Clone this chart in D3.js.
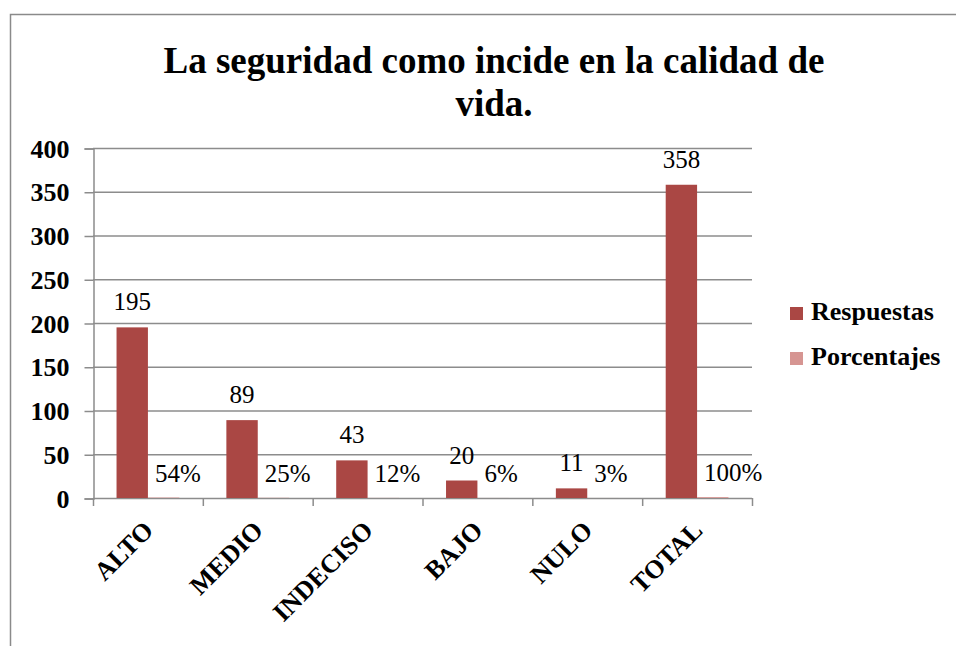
<!DOCTYPE html>
<html>
<head>
<meta charset="utf-8">
<script src="https://cdn.jsdelivr.net/npm/d3@7"></script>
<style>
  body { margin: 0; background: #fff; }
</style>
</head>
<body>
<div id="vis"></div>
<script>
'use strict'

// data
const categories = ["ALTO", "MEDIO", "INDECISO", "BAJO", "NULO", "TOTAL"];
const series = ["Respuestas", "Porcentajes"];
const respuestas = [195, 89, 43, 20, 11, 358];
const porcentajes = [0.54, 0.25, 0.12, 0.06, 0.03, 1.00];
const porcentajeLabels = ["54%", "25%", "12%", "6%", "3%", "100%"];
const yTicks = [0, 50, 100, 150, 200, 250, 300, 350, 400];
const titleLines = ["La seguridad como incide en la calidad de", "vida."];

////////////////////////////////////////
////////////// Setup ///////////////////
////////////////////////////////////////

const font = "Liberation Serif";
const width = 956, height = 646;
const plot = { left: 93, right: 752, top: 148, bottom: 498 };
const colors = { Respuestas: "#AA4744", Porcentajes: "#D69592" };
const gridColor = "#8c8c8c";

const svg = d3.select("#vis").append("svg")
  .attr("width", width)
  .attr("height", height)
  .style("display", "block");

// chart frame
svg.append("rect")
  .attr("x", 10.5).attr("y", 14.5)
  .attr("width", 960).attr("height", 700)
  .attr("fill", "#fff")
  .attr("stroke", "#8a8a8a")
  .attr("stroke-width", 1.5);

// title
svg.append("g").selectAll("text")
  .data(titleLines)
  .join("text")
  .attr("x", 494)
  .attr("y", (d, i) => 73 + i * 43)
  .attr("text-anchor", "middle")
  .attr("font-family", font)
  .attr("font-size", 37)
  .attr("font-weight", "bold")
  .text(d => d);

////////////////////////////////////////
////////////// Scales //////////////////
////////////////////////////////////////

const x = d3.scaleBand().domain(categories).range([plot.left, plot.right]);
const x1 = d3.scaleBand().domain(series).range([0, x.bandwidth()]).paddingOuter(0.75);
const y = d3.scaleLinear().domain([0, 400]).range([plot.bottom, plot.top]);

// gridlines
svg.append("g").selectAll("line")
  .data(yTicks.filter(d => d > 0))
  .join("line")
  .attr("x1", plot.left).attr("x2", plot.right)
  .attr("y1", d => y(d) + 0.5).attr("y2", d => y(d) + 0.5)
  .attr("stroke", gridColor).attr("stroke-width", 1.5);

// y axis
const yAxis = svg.append("g")
  .attr("transform", `translate(${plot.left + 0.5},0.5)`)
  .call(d3.axisLeft(y).tickValues(yTicks).tickSize(9).tickPadding(15))
  .attr("font-family", font);
yAxis.selectAll("line, path").attr("stroke", gridColor).attr("stroke-width", 1.5);
yAxis.selectAll("text")
  .attr("font-family", font)
  .attr("font-size", 26)
  .attr("font-weight", "bold")
  .attr("fill", "#000")
  .attr("dy", "0.33em");

// x axis (ticks on band boundaries)
const xAxis = svg.append("g");
xAxis.append("line")
  .attr("x1", plot.left).attr("x2", plot.right)
  .attr("y1", plot.bottom + 0.5).attr("y2", plot.bottom + 0.5)
  .attr("stroke", gridColor).attr("stroke-width", 1.5);
xAxis.selectAll(".tick")
  .data(categories.concat(["end"]))
  .join("line")
  .attr("x1", (d, i) => plot.left + i * x.step() + 0.5)
  .attr("x2", (d, i) => plot.left + i * x.step() + 0.5)
  .attr("y1", plot.bottom).attr("y2", plot.bottom + 8)
  .attr("stroke", gridColor).attr("stroke-width", 1.5);

xAxis.selectAll("text")
  .data(categories)
  .join("text")
  .attr("transform", d => `translate(${x(d) + x.bandwidth() / 2 - 6},${plot.bottom + 21}) rotate(-45)`)
  .attr("text-anchor", "end")
  .attr("font-family", font)
  .attr("font-size", 26)
  .attr("font-weight", "bold")
  .attr("dy", "0.7em")
  .text(d => d);

////////////////////////////////////////
////////////// Bars ////////////////////
////////////////////////////////////////

const rows = categories.map((c, i) => ({ cat: c, Respuestas: respuestas[i], Porcentajes: porcentajes[i], pct: porcentajeLabels[i] }));

const groups = svg.append("g").selectAll("g")
  .data(rows)
  .join("g")
  .attr("transform", d => `translate(${x(d.cat)},0)`);

groups.selectAll("rect")
  .data(d => series.map(s => ({ key: s, value: d[s] })))
  .join("rect")
  .attr("x", d => x1(d.key))
  .attr("width", x1.bandwidth())
  .attr("y", d => y(d.value))
  .attr("height", d => y(0) - y(d.value))
  .attr("fill", d => colors[d.key]);

// value labels
groups.append("text")
  .attr("x", x1("Respuestas") + x1.bandwidth() / 2)
  .attr("y", d => y(d.Respuestas) - 17)
  .attr("text-anchor", "middle")
  .attr("font-family", font)
  .attr("font-size", 25)
  .text(d => d.Respuestas);

groups.append("text")
  .attr("x", x1("Porcentajes") + 7)
  .attr("y", d => y(d.Porcentajes) - 16)
  .attr("font-family", font)
  .attr("font-size", 25)
  .text(d => d.pct);

////////////////////////////////////////
////////////// Legend //////////////////
////////////////////////////////////////

const legend = svg.append("g").selectAll("g")
  .data(series)
  .join("g")
  .attr("transform", (d, i) => `translate(790,${307 + i * 45})`);

legend.append("rect")
  .attr("width", 13).attr("height", 13)
  .attr("fill", d => colors[d]);

legend.append("text")
  .attr("x", 21).attr("y", 13)
  .attr("font-family", font)
  .attr("font-size", 26)
  .attr("font-weight", "bold")
  .text(d => d);
</script>
</body>
</html>
